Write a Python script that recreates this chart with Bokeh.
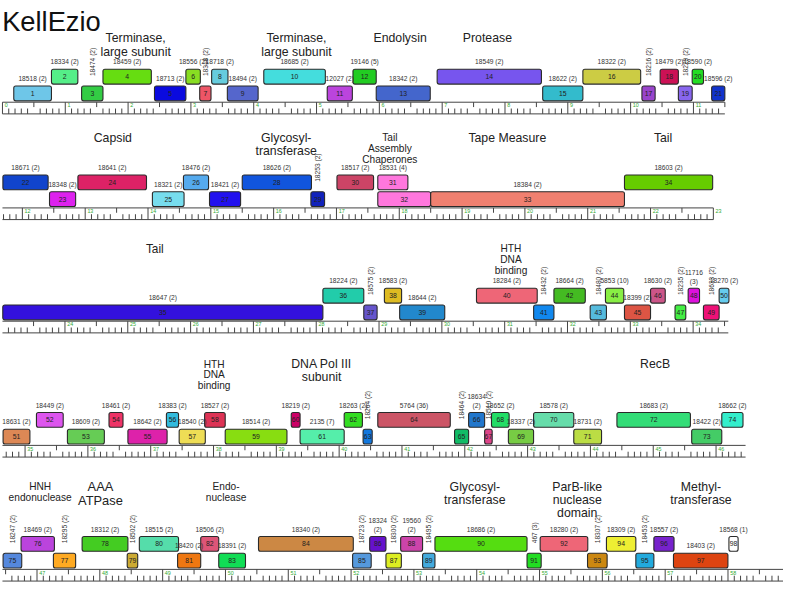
import numpy as np
from bokeh.plotting import figure
from bokeh.models import Range1d, ColumnDataSource
from bokeh.embed import file_html
from bokeh.resources import INLINE
from bokeh.core.properties import value

# ---------------- data ----------------
title = "KellEzio"

gene_number = list(range(1, 99))

gene_start_kb = [
    0.18, 0.78, 1.26, 1.60, 2.42, 2.92, 3.14, 3.33, 3.58, 4.16, 5.17, 5.58, 5.95, 6.92, 8.60, 9.24, 10.18, 10.47, 10.76, 10.98, 11.29,
    11.69, 12.432, 12.884, 14.070, 14.564, 14.979, 15.500, 16.593, 17.008, 17.658, 17.658, 18.500, 21.585,
    23.01, 28.106, 28.757, 29.085, 29.328, 30.551, 31.461, 31.784, 32.361, 32.604, 32.907, 33.322, 33.712, 33.921, 34.164, 34.414,
    34.65, 35.181, 35.674, 36.336, 36.637, 37.250, 37.453, 37.858, 38.186, 39.237, 39.378, 40.080, 40.381, 40.615, 41.837, 42.061,
    42.316, 42.425, 42.694, 43.095, 43.735, 44.422, 45.612, 46.091,
    46.46, 46.746, 47.261, 47.718, 48.436, 48.629, 49.238, 49.606, 49.893, 50.526, 52.024, 52.296, 52.555, 52.789, 53.138, 53.335,
    54.801, 55.010, 55.764, 56.065, 56.533, 56.820, 57.132, 58.015,
]
gene_end_kb = [
    0.78, 1.20, 1.60, 2.37, 2.92, 3.15, 3.32, 3.59, 4.07, 5.14, 5.57, 5.95, 6.81, 8.58, 9.24, 10.16, 10.39, 10.76, 10.98, 11.16, 11.50,
    12.41, 12.848, 13.976, 14.574, 14.964, 15.474, 16.602, 16.811, 17.591, 18.137, 18.500, 21.585, 22.989,
    28.106, 28.757, 28.969, 29.359, 30.046, 31.518, 31.784, 32.283, 32.620, 32.896, 33.322, 33.556, 33.883, 34.102, 34.414, 34.570,
    35.077, 35.607, 36.262, 36.559, 37.261, 37.443, 37.869, 38.186, 39.169, 39.378, 40.080, 40.370, 40.526, 41.769, 42.061, 42.316,
    42.436, 42.706, 43.095, 43.735, 44.177, 45.592, 46.091, 46.429,
    46.757, 47.277, 47.615, 48.447, 48.603, 49.253, 49.606, 49.893, 50.319, 52.035, 52.320, 52.555, 52.800, 53.138, 53.335, 54.801,
    55.026, 55.768, 56.076, 56.533, 56.820, 57.141, 57.999, 58.161,
]
gene_track = list(
    "LULULULULULULULULULUL"
    "ULULULULUULLU"
    "LULULULULULULULU"
    "LULULULULULULULULULULULU"
    "LULULULULULULULULULULULU"
)
gene_color = [
    "#6ec6e8", "#55ee88", "#33cc44", "#66dd11", "#0a0adf", "#88dd22", "#ee5566", "#66ccdd", "#5566cc", "#44dddd", "#bb44dd",
    "#22cc22", "#4466cc", "#7755ee", "#33bbcc", "#cccc44", "#9944cc", "#cc1155", "#8866ee", "#22dd22", "#1133cc",
    "#1144cc", "#dd22ee", "#dd2266", "#77ddee", "#55aaee", "#2211ee", "#1155dd", "#1122bb", "#cc4466", "#ff77dd", "#ff77dd",
    "#f08070", "#66cc00",
    "#3311dd", "#22ccaa", "#6655cc", "#ddbb22", "#2288cc", "#ee6677", "#1188ee", "#44bb22", "#55bbdd", "#88ee44", "#dd5544",
    "#cc5588", "#44ee44", "#dd11dd", "#ee1177", "#66ccee",
    "#dd8855", "#dd55ee", "#66cc55", "#ee3366", "#dd22aa", "#33bbdd", "#eedd55", "#dd3355", "#88dd11", "#cc0066", "#55eeaa",
    "#33dd22", "#1177dd", "#cc5566", "#11bb66", "#2277cc", "#dd4488", "#22dd66", "#77cc44", "#66ddaa", "#bbdd44", "#33dd77",
    "#44cc66", "#33eecc",
    "#5588dd", "#bb44dd", "#ffaa22", "#44cc22", "#ccaa33", "#55ddaa", "#ee7711", "#dd5577", "#11dd55", "#cc8844", "#5599dd",
    "#6611cc", "#ddee22", "#cc44aa", "#44aadd", "#55dd11", "#22dd22", "#ee6677", "#cc8811", "#eeee33", "#22aadd", "#7722cc",
    "#dd4411", "#ffffff",
]
pham_label = [
    "18518 (2)", "18334 (2)", "18474 (2)", "18459 (2)", "18713 (2)", "18556 (2)", "18318 (2)", "18718 (2)", "18494 (2)",
    "18685 (2)", "12027 (2)", "19146 (5)", "18342 (2)", "18549 (2)", "18622 (2)", "18322 (2)", "18216 (2)", "18479 (2)",
    "18229 (2)", "18590 (2)", "18596 (2)",
    "18671 (2)", "18348 (2)", "18641 (2)", "18321 (2)", "18476 (2)", "18421 (2)", "18626 (2)", "18253 (2)", "18517 (2)",
    "18531 (4)", "", "18384 (2)", "18603 (2)",
    "18647 (2)", "18224 (2)", "18575 (2)", "18583 (2)", "18644 (2)", "18284 (2)", "18432 (2)", "18664 (2)", "18480 (2)",
    "5853 (10)", "18399 (2)", "18630 (2)", "18235 (2)", "11716 (3)", "18633 (2)", "18270 (2)",
    "18631 (2)", "18449 (2)", "18609 (2)", "18461 (2)", "18642 (2)", "18383 (2)", "18540 (2)", "18527 (2)", "18514 (2)",
    "18219 (2)", "2135 (7)", "18263 (2)", "18264 (2)", "5764 (36)", "18464 (2)", "18634 (2)", "18510 (2)", "18652 (2)",
    "18337 (2)", "18578 (2)", "18731 (2)", "18683 (2)", "18422 (2)", "18662 (2)",
    "18247 (2)", "18469 (2)", "18295 (2)", "18312 (2)", "18502 (2)", "18515 (2)", "18420 (2)", "18506 (2)", "18391 (2)",
    "18340 (2)", "18723 (2)", "18324 (2)", "18300 (2)", "19560 (2)", "18495 (2)", "18686 (2)", "467 (3)", "18280 (2)",
    "18307 (2)", "18309 (2)", "18453 (2)", "18557 (2)", "18403 (2)", "18568 (1)",
]
vertical_labels = [3, 7, 17, 19, 29, 37, 41, 43, 47, 49, 63, 65, 67, 75, 77, 79, 85, 87, 89, 91, 93, 95]
two_line_labels = [48, 66, 86, 88]

func_text = [
    "Terminase,\nlarge subunit", "Terminase,\nlarge subunit", "Endolysin", "Protease",
    "Capsid", "Glycosyl-\ntransferase", "Tail\nAssembly\nChaperones", "Tape Measure", "Tail",
    "Tail", "HTH\nDNA\nbinding",
    "HTH\nDNA\nbinding", "DNA Pol III\nsubunit", "RecB",
    "HNH\nendonuclease", "AAA\nATPase", "Endo-\nnuclease", "Glycosyl-\ntransferase", "ParB-like\nnuclease\ndomain",
    "Methyl-\ntransferase",
]
func_kb = [2.12, 4.68, 6.33, 7.72, 13.44, 16.20, 17.85, 19.72, 22.20, 25.43, 31.10, 38.01, 39.72, 45.03,
           47.05, 48.01, 50.01, 53.97, 55.60, 57.57]

row_start_kb = [0.0, 11.683, 23.005, 34.64, 46.45]
row_end_kb = [11.50, 23.0, 34.56, 46.47, 58.88]

# ---------------- layout (reference pixel units for y) ----------------
S = 0.975
FONT = "Liberation Sans"
U0 = [70.7, 179.3, 295.7, 423.3, 550.7]
BOX_H = 15.2
LOW_OFF = 17.2
RULER_OFF = 33.8
FUNC_Y = [39, 141, 255, 373.5, 499.5]
func_size = [12.6, 12.6, 12.6, 12.6, 12.6, 12.6, 10.4, 12.6, 12.6, 12.2, 10.4, 10.4, 12.6, 12.6, 10.4, 13.2, 10.4,
             12.6, 12.6, 12.6]


def fs(px):
    return "%.2fpx" % (px * S)


def row_of(kb):
    r = 0
    for i, s in enumerate(row_start_kb):
        if kb >= s - 0.05:
            r = i
    return r


p = figure(width=783, height=583, x_range=Range1d(-2 / 64.1, 797 / 64.1), y_range=Range1d(599, 0),
           output_backend="svg", toolbar_location=None, min_border=0)
p.axis.visible = False
p.grid.visible = False
p.outline_line_color = None
p.background_fill_color = "white"

# title
p.text(x=[-0.005], y=[21.5], text=[title], text_font=value(FONT), text_font_size=fs(28),
       text_baseline="alphabetic", text_align="left", text_color="#111111")

# rulers
for r in range(5):
    R = U0[r] + RULER_OFF
    rs, re = row_start_kb[r], row_end_kb[r]
    L = re - rs
    p.segment(x0=[0, 0], y0=[R, R + 12], x1=[L, L], y1=[R, R + 12], line_color="#444444", line_width=1)
    tenths = np.arange(np.ceil(rs * 10), np.floor(re * 10) + 1) / 10.0
    maj_x, half_x, min_x, maj_lab = [], [], [], []
    for t in tenths:
        k = int(round(t * 10))
        loc = t - rs
        if k % 10 == 0:
            maj_x.append(loc)
            maj_lab.append(str(k // 10))
        elif k % 5 == 0:
            half_x.append(loc)
        else:
            min_x.append(loc)
    p.segment(x0=maj_x, x1=maj_x, y0=[R] * len(maj_x), y1=[R + 12] * len(maj_x), line_color="#444444", line_width=1)
    p.segment(x0=half_x, x1=half_x, y0=[R] * len(half_x), y1=[R + 5] * len(half_x), line_color="#444444", line_width=1)
    p.segment(x0=min_x, x1=min_x, y0=[R + 6.5] * len(min_x), y1=[R + 12] * len(min_x), line_color="#444444", line_width=1)
    p.text(x=[m + 0.035 for m in maj_x], y=[R + 1.2] * len(maj_x), text=maj_lab, text_font=value(FONT),
           text_font_size=fs(5.5), text_color="#33aa33", text_baseline="top", text_align="left")

# genes
left, right, top, bottom, cx, cy = [], [], [], [], [], []
hx, hy, ht = [], [], []
vx, vy, vt = [], [], []
for i, n in enumerate(gene_number):
    r = row_of(gene_start_kb[i])
    a = gene_start_kb[i] - row_start_kb[r]
    b = gene_end_kb[i] - row_start_kb[r]
    t = U0[r] + (0 if gene_track[i] == "U" else LOW_OFF)
    left.append(a); right.append(b); top.append(t); bottom.append(t + BOX_H)
    cx.append((a + b) / 2); cy.append(t + BOX_H / 2)
    lab = pham_label[i]
    if not lab:
        continue
    if n in vertical_labels:
        vx.append((a + b) / 2); vy.append(U0[r] + 7.0); vt.append(lab)
    elif n in two_line_labels:
        parts = lab.split(" ")
        hx += [(a + b) / 2] * 2
        hy += [t - 16.0, t - 6.8]
        ht += parts
    else:
        hx.append((a + b) / 2)
        hy.append(t - 7.6)
        ht.append(lab)

src = ColumnDataSource(dict(left=left, right=right, top=top, bottom=bottom, color=gene_color))
p.quad(left="left", right="right", top="top", bottom="bottom", fill_color="color", line_color="#2a2a2a",
       line_width=1.1, border_radius=2, source=src)
p.text(x=cx, y=cy, text=[str(n) for n in gene_number], text_font=value(FONT), text_font_size=fs(7.0),
       text_align="center", text_baseline="middle", text_color="#222222")
p.text(x=hx, y=hy, text=ht, text_font=value(FONT), text_font_size=fs(6.8),
       text_align="center", text_baseline="middle", text_color="#333333")
p.text(x=vx, y=vy, text=vt, text_font=value(FONT), text_font_size=fs(6.8), angle=np.pi / 2,
       text_align="left", text_baseline="middle", text_color="#333333")

# function labels
fx, fy, ft, fsz = [], [], [], []
for i, txt in enumerate(func_text):
    r = row_of(func_kb[i])
    lines = txt.split("\n")
    for j, ln in enumerate(lines):
        fx.append(func_kb[i] - row_start_kb[r])
        fy.append(FUNC_Y[r] + j * func_size[i] * 1.08)
        ft.append(ln)
        fsz.append(fs(func_size[i]))
fsrc = ColumnDataSource(dict(x=fx, y=fy, t=ft, s=fsz))
p.text(x="x", y="y", text="t", text_font_size="s", text_font=value(FONT), text_align="center",
       text_baseline="middle", text_color="#222222", source=fsrc)

open("out.html", "w").write(file_html(p, INLINE))
